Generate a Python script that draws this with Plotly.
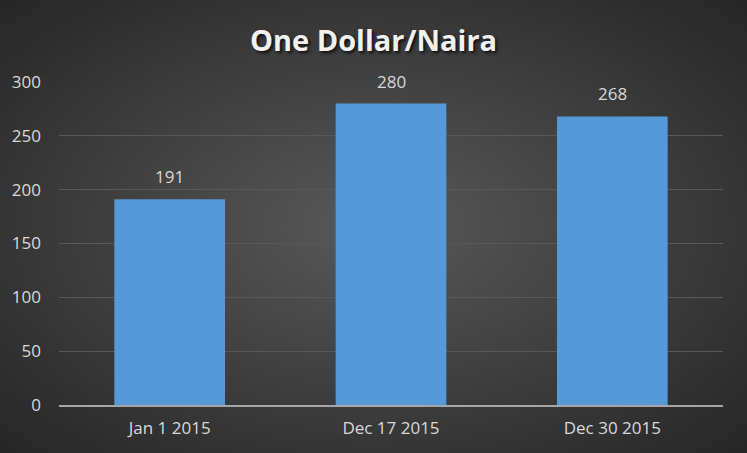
import base64
import plotly.graph_objects as go

# chart data
dates = ["Jan 1 2015", "Dec 17 2015", "Dec 30 2015"]
rates = [191, 280, 268]
y_ticks = [0, 50, 100, 150, 200, 250, 300]

W, H = 747, 453
L, R, T, B = 59, 24, 82, 48
pw, ph = W - L - R, H - T - B

# radial dark background like the office chart style
bg_svg = f"""<svg xmlns='http://www.w3.org/2000/svg' width='{W}' height='{H}' viewBox='0 0 {W} {H}' preserveAspectRatio='none'>
<defs><radialGradient id='g' cx='50%' cy='50%' r='70%'>
<stop offset='0%' stop-color='#595959'/>
<stop offset='100%' stop-color='#262626'/>
</radialGradient></defs>
<rect width='{W}' height='{H}' fill='url(#g)'/></svg>"""
bg_uri = "data:image/svg+xml;base64," + base64.b64encode(bg_svg.encode()).decode()

fig = go.Figure()
fig.add_trace(go.Bar(
    x=dates,
    y=rates,
    marker=dict(color="#5599d8", line=dict(width=0)),
    showlegend=False,
    hoverinfo="x+y",
))

# value labels sitting above each bar
for d, v in zip(dates, rates):
    fig.add_annotation(
        x=d, y=v, text=str(v),
        showarrow=False,
        yanchor="bottom",
        yshift=9,
        font=dict(color="#d9d9d9", size=17, family="Open Sans"),
    )

fig.update_layout(
    width=W,
    height=H,
    margin=dict(l=L, r=R, t=T, b=B),
    paper_bgcolor="#3a3a3a",
    plot_bgcolor="rgba(0,0,0,0)",
    bargap=0.5,
    title=dict(
        text="<b>One Dollar/Naira</b>",
        x=0.5,
        xanchor="center",
        y=1 - 41 / H,
        yanchor="middle",
        font=dict(size=29, color="#f2f2f2", family="Open Sans",
                  shadow="2px 2px 3px #111"),
    ),
    images=[dict(
        source=bg_uri,
        xref="paper", yref="paper",
        x=-L / pw, y=1 + T / ph,
        sizex=W / pw, sizey=H / ph,
        xanchor="left", yanchor="top",
        sizing="stretch",
        layer="below",
    )],
    xaxis=dict(
        showgrid=False,
        showline=True,
        linecolor="#a6a6a6",
        linewidth=2,
        ticks="",
        ticklabelstandoff=7,
        tickfont=dict(color="#d9d9d9", size=17, family="Open Sans"),
    ),
    yaxis=dict(
        range=[0, 300],
        tickvals=y_ticks,
        showgrid=True,
        gridcolor="#585858",
        gridwidth=1,
        zeroline=False,
        showline=False,
        ticks="",
        ticklabelstandoff=17,
        tickfont=dict(color="#d9d9d9", size=17, family="Open Sans"),
    ),
)

# drop the default page margin so the figure fills the window
fig.write_html("out.html", config={"displayModeBar": False},
               post_script="document.body.style.margin='0';")
